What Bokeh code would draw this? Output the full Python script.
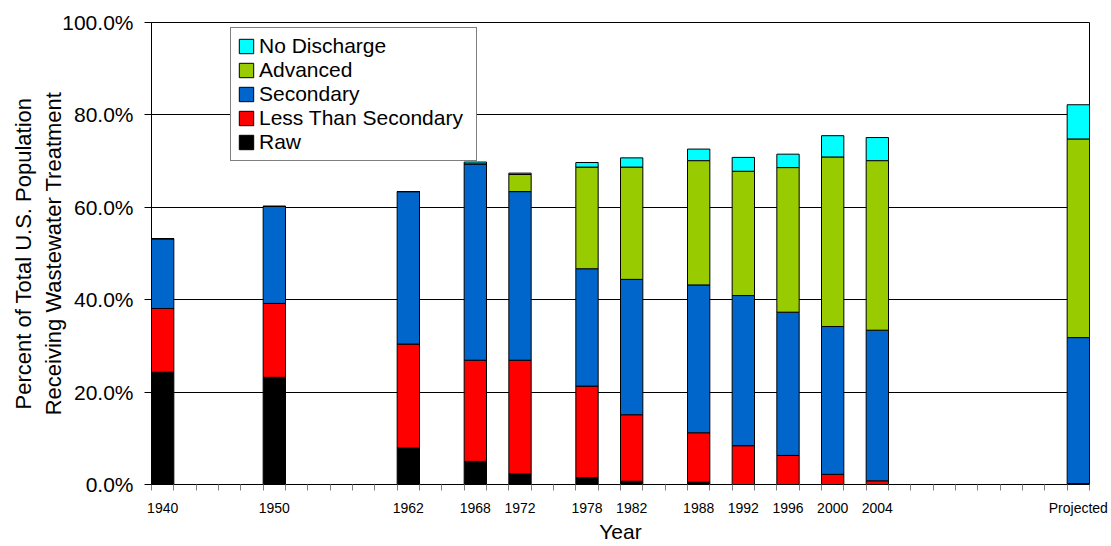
from bokeh.plotting import figure
from bokeh.models import FixedTicker, PrintfTickFormatter, Legend, LegendItem, Range1d, ColumnDataSource
from bokeh.embed import file_html
from bokeh.resources import INLINE

# ---- data ----
years = [1940, 1950, 1962, 1968, 1972, 1978, 1982, 1988, 1992, 1996, 2000, 2004, 2022]
year_labels = ["1940", "1950", "1962", "1968", "1972", "1978", "1982", "1988",
               "1992", "1996", "2000", "2004", "Projected"]
raw = [24.3, 23.2, 7.9, 5.0, 2.3, 1.5, 0.7, 0.5, 0.0, 0.0, 0.0, 0.0, 0.0]
less_than_secondary = [13.8, 16.0, 22.5, 21.9, 24.6, 19.8, 14.4, 10.7, 8.4, 6.3, 2.2, 0.8, 0.2]
secondary = [15.1, 21.0, 33.0, 42.5, 36.5, 25.4, 29.3, 32.0, 32.5, 31.0, 32.0, 32.6, 31.6]
advanced = [0.0, 0.0, 0.0, 0.0, 3.7, 22.0, 24.3, 26.9, 26.9, 31.3, 36.7, 36.7, 43.0]
no_discharge = [0.0, 0.0, 0.0, 0.4, 0.3, 1.0, 2.0, 2.5, 3.0, 2.9, 4.6, 5.0, 7.4]

series_names = ["Raw", "Less Than Secondary", "Secondary", "Advanced", "No Discharge"]
series_cols = ["raw", "less", "secondary", "advanced", "nodis"]
colors = ["#000000", "#FF0000", "#0066CC", "#99CC00", "#00FFFF"]

src = ColumnDataSource(dict(x=years, raw=raw, less=less_than_secondary,
                            secondary=secondary, advanced=advanced, nodis=no_discharge))

FONT = "Liberation Sans"

p = figure(width=1108, height=546,
           x_range=Range1d(1939, 2023), y_range=Range1d(0, 100),
           output_backend="svg", toolbar_location=None,
           min_border_left=151, min_border_right=19, min_border_top=22, min_border_bottom=62)
p.background_fill_color = "white"
p.border_fill_color = "white"
p.outline_line_color = "black"
p.outline_line_width = 1
p.outline_line_alpha = 1

rs = p.vbar_stack(series_cols, x="x", width=2, color=colors, line_color="black",
                  line_width=1, source=src)

items = [LegendItem(label=n, renderers=[r]) for n, r in zip(series_names, rs)][::-1]
legend = Legend(items=items, location=(79, 323))
legend.label_text_font = FONT
legend.label_text_font_size = "21px"
legend.label_text_color = "black"
legend.label_height = 20
legend.label_width = 211
legend.glyph_height = 18
legend.glyph_width = 18
legend.spacing = 0
legend.padding = 6
legend.margin = 0
legend.label_standoff = 4
legend.border_line_color = "black"
legend.border_line_width = 1
legend.background_fill_color = "white"
legend.background_fill_alpha = 1
p.add_layout(legend, "center")

# grid
p.xgrid.visible = False
p.ygrid.grid_line_color = "black"
p.ygrid.grid_line_width = 1

# x axis
xa = p.xaxis[0]
xa.ticker = FixedTicker(ticks=years, minor_ticks=list(range(1939, 2024, 2)))
xa.major_label_overrides = {y: l for y, l in zip(years, year_labels)}
xa.major_tick_line_color = None
xa.major_tick_in = 0
xa.major_tick_out = 6
xa.minor_tick_in = 0
xa.minor_tick_out = 6
xa.minor_tick_line_color = "#808080"
xa.axis_line_color = "black"
xa.major_label_text_font = FONT
xa.major_label_text_font_size = "14px"
xa.major_label_text_color = "black"
xa.major_label_standoff = 9
xa.axis_label = "Year"
xa.axis_label_text_font = FONT
xa.axis_label_text_font_size = "21px"
xa.axis_label_text_font_style = "normal"
xa.axis_label_text_color = "black"
xa.axis_label_standoff = 1

# y axis
ya = p.yaxis[0]
ya.ticker = FixedTicker(ticks=[0, 20, 40, 60, 80, 100])
ya.formatter = PrintfTickFormatter(format="%.1f%%")
ya.major_tick_in = 0
ya.major_tick_out = 7
ya.major_tick_line_color = "black"
ya.minor_tick_line_color = None
ya.axis_line_color = "black"
ya.major_label_text_font = FONT
ya.major_label_text_font_size = "21px"
ya.major_label_text_color = "black"
ya.major_label_standoff = 11
ya.axis_label = "Percent of Total U.S. Population\nReceiving Wastewater Treatment"
ya.axis_label_text_font = FONT
ya.axis_label_text_font_size = "22px"
ya.axis_label_text_font_style = "normal"
ya.axis_label_text_color = "black"
ya.axis_label_standoff = -7

open("out.html", "w").write(file_html(p, INLINE))
